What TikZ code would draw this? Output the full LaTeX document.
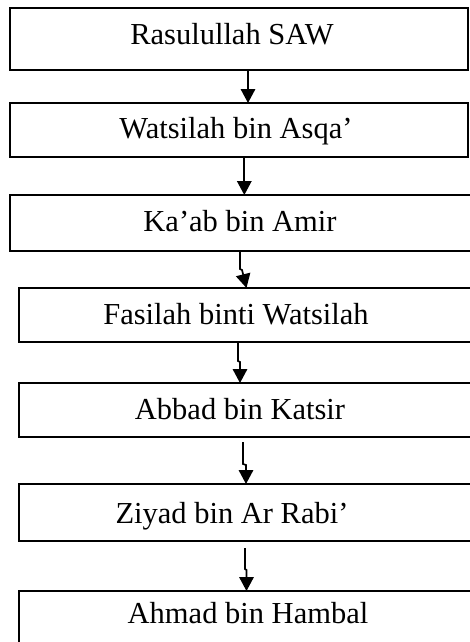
\documentclass[tikz,border=0pt]{standalone}
\usepackage{fontspec}
\setmainfont{Liberation Serif}
\usetikzlibrary{arrows.meta}
\tikzset{
  box/.style={draw, line width=1.7pt, inner sep=0pt, outer sep=0pt, minimum width=#1},
  box/.default=458pt,
  narrator/.style={anchor=base, inner sep=0pt, font=\fontsize{30.5}{36}\selectfont},
  arr/.style={line width=1.7pt, -{Triangle[width=14.5pt,length=14pt]}}
}
\begin{document}
\begin{tikzpicture}[x=1pt, y=-1pt]
\useasboundingbox (0,0) rectangle (469,642);

% chain of narrators, top to bottom
\node[box=458pt, minimum height=62pt] (b1) at (239,39) {};
\node[box=458pt, minimum height=54pt] (b2) at (239,130) {};
\node[box=466pt, minimum height=56pt] (b3) at (243,223) {};
\node[box=457pt, minimum height=54pt] (b4) at (247.5,315) {};
\node[box=457pt, minimum height=54pt] (b5) at (247.5,410) {};
\node[box=457pt, minimum height=57pt] (b6) at (247.5,512.5) {};
\node[box=457pt, minimum height=57pt] (b7) at (247.5,619.5) {};

\node[narrator] (t1) at (232,45) {Rasulullah SAW};
\node[narrator] (t2) at (236,138) {Watsilah bin Asqa’};
\node[narrator] (t3) at (240,231) {Ka’ab bin Amir};
\node[narrator] (t4) at (236,324) {Fasilah binti Watsilah};
\node[narrator] (t5) at (240,419) {Abbad bin Katsir};
\node[narrator] (t6) at (232,523) {Ziyad bin Ar Rabi’};
\node[narrator] (t7) at (248,623) {Ahmad bin Hambal};

% connectors
\draw[arr] ([xshift=9pt]b1.south) -- ([xshift=9pt]b2.north);
\draw[arr] ([xshift=5.3pt]b2.south) -- ([xshift=1.3pt]b3.north);
\draw[arr] ([xshift=-3pt]b3.south) -- ++(0,18) -- ++(2,1) -- ([xshift=-1pt]b4.north);
\draw[arr] ([xshift=-9.5pt]b4.south) -- ++(0,19) -- ++(2,1) -- ([xshift=-7.5pt]b5.north);
\draw[arr] ([xshift=-4.5pt,yshift=-5pt]b5.south) -- ++(0,22) -- ++(3,1) -- ([xshift=-1.5pt]b6.north);
\draw[arr] ([xshift=-2.5pt,yshift=-7pt]b6.south) -- ++(0,21) -- ++(1.5,1) -- ([xshift=-1pt]b7.north);
\end{tikzpicture}
\end{document}
